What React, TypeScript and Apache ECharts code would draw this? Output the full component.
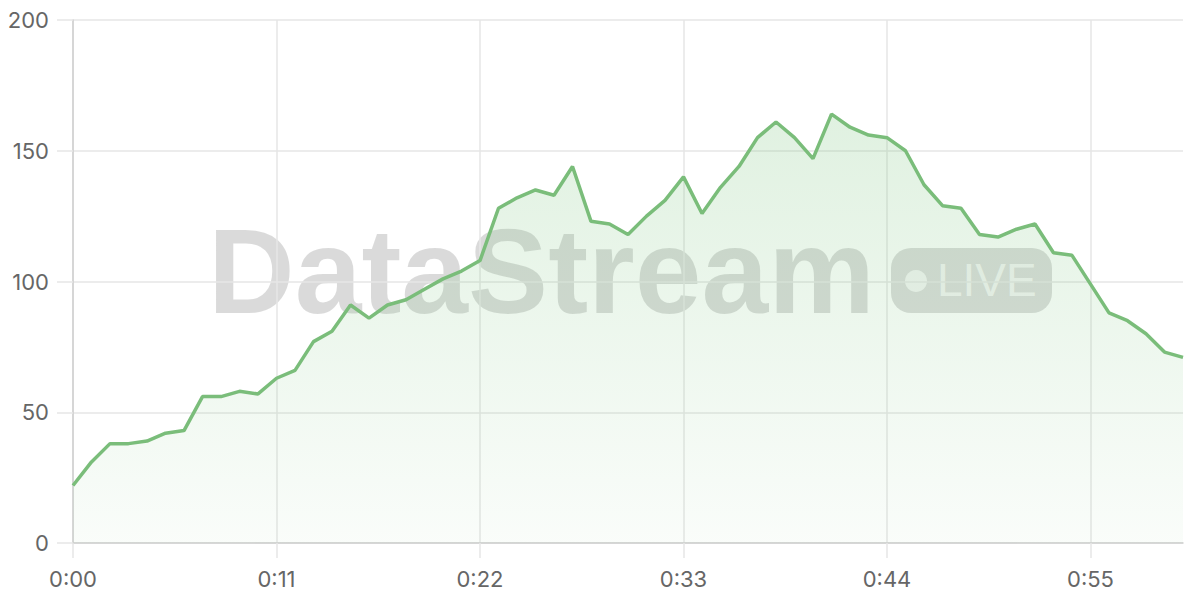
import React, { useEffect, useRef } from "react";
import * as echarts from "echarts";

const values: number[] = [
  22, 31, 38, 38, 39, 42, 43, 56, 56, 58,
  57, 63, 66, 77, 81, 91, 86, 91, 93, 97,
  101, 104, 108, 128, 132, 135, 133, 144, 123, 122,
  118, 125, 131, 140, 126, 136, 144, 155, 161, 155,
  147, 164, 159, 156, 155, 150, 137, 129, 128, 118,
  117, 120, 122, 111, 110, 99, 88, 85, 80, 73,
  71,
];

const categories: string[] = values.map((_, i) => {
  const m = Math.floor(i / 60);
  const s = i % 60;
  return `${m}:${s < 10 ? "0" + s : s}`;
});

const yTicks = { min: 0, max: 200, interval: 50 };

export default function App() {
  const ref = useRef<HTMLDivElement>(null);
  useEffect(() => {
    if (!ref.current) return;
    const chart = echarts.init(ref.current, undefined, { renderer: "svg" });
    const labelFont = "Inter, 'Noto Sans', sans-serif";
    chart.setOption({
      animation: false,
      backgroundColor: "#ffffff",
      grid: { left: 73, right: 17, top: 20, bottom: 57, containLabel: false },
      xAxis: {
        type: "category",
        data: categories,
        boundaryGap: false,
        axisLine: { show: true, lineStyle: { color: "#cfcfcf", width: 1.5 } },
        axisTick: { show: true, interval: 10, length: 15, lineStyle: { color: "#e6e6e6", width: 1.5 } },
        axisLabel: { interval: 10, color: "#666666", fontSize: 22, margin: 25, fontFamily: labelFont },
        splitLine: { show: true, interval: 10, lineStyle: { color: "#e6e6e6", width: 1.5 } },
      },
      yAxis: {
        type: "value",
        min: yTicks.min,
        max: yTicks.max,
        interval: yTicks.interval,
        axisLine: { show: true, lineStyle: { color: "#cfcfcf", width: 1.5 } },
        axisTick: { show: true, length: 16, lineStyle: { color: "#e6e6e6", width: 1.5 } },
        axisLabel: { color: "#666666", fontSize: 22, margin: 24, fontFamily: labelFont },
        splitLine: { show: true, lineStyle: { color: "#e6e6e6", width: 1.5 } },
      },
      graphic: [
        {
          type: "text",
          left: 208,
          top: 211,
          z: 0,
          silent: true,
          style: {
            text: "DataStream",
            fontSize: 120,
            fontWeight: "bold",
            fontFamily: "'Liberation Sans', Arial, sans-serif",
            fill: "rgba(0,0,0,0.145)",
          },
        },
        {
          type: "rect",
          shape: { x: 891, y: 248, width: 161, height: 65, r: 20 },
          z: 0,
          silent: true,
          style: { fill: "rgba(0,0,0,0.14)" },
        },
        {
          type: "circle",
          shape: { cx: 916, cy: 281, r: 11 },
          z: 0,
          silent: true,
          style: { fill: "rgba(255,255,255,0.7)" },
        },
        {
          type: "text",
          left: 937,
          top: 257,
          z: 0,
          silent: true,
          style: {
            text: "LIVE",
            fontSize: 46,
            fontFamily: "'Liberation Sans', Arial, sans-serif",
            fill: "rgba(255,255,255,0.7)",
          },
        },
      ],
      series: [
        {
          type: "line",
          data: values,
          symbol: "none",
          lineStyle: { color: "#7abd7a", width: 3.5 },
          areaStyle: {
            color: new echarts.graphic.LinearGradient(0, 0, 0, 1, [
              { offset: 0, color: "rgba(129,199,132,0.35)" },
              { offset: 1, color: "rgba(129,199,132,0.06)" },
            ]),
          },
        },
      ],
    });
    return () => chart.dispose();
  }, []);
  return <div ref={ref} style={{ width: 1200, height: 600, position: "absolute", left: 0, top: 0 }} />;
}
